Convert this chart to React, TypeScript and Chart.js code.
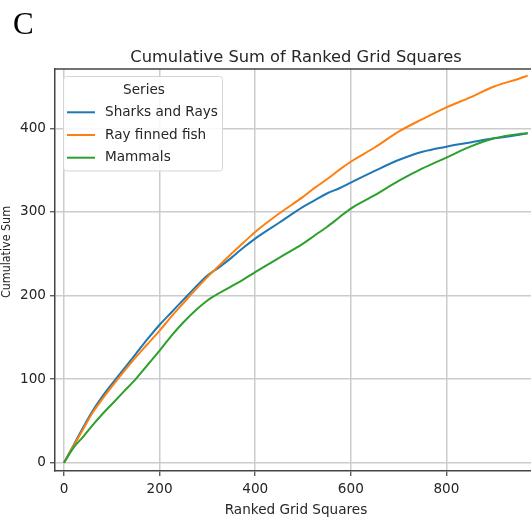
import React, { useEffect, useRef } from "react";
import { Chart, registerables } from "chart.js";

Chart.register(...registerables);

const rankX = [0, 20, 40, 60, 80, 100, 125, 150, 175, 200, 225, 250, 275, 300, 325, 350, 375, 400, 450, 500, 525, 550, 575, 600, 650, 700, 750, 800, 850, 900, 950, 970];
const sharksRays = [0, 21, 42, 62, 79, 94, 112, 130, 148, 165, 180, 195, 210, 224, 234, 245, 257, 268, 287, 306, 314, 322, 328, 335, 349, 362, 372, 378, 383, 388, 392, 394];
const rayFinned = [0, 20, 40, 60, 76, 91, 109, 126, 142, 158, 175, 191, 207, 222, 236, 250, 263, 276, 298, 318, 329, 339, 350, 360, 377, 396, 411, 425, 437, 450, 459, 463];
const mammals = [0, 18, 31, 45, 58, 70, 85, 100, 117, 134, 152, 168, 182, 194, 203, 211, 219, 228, 245, 262, 272, 282, 293, 304, 320, 337, 352, 365, 378, 388, 393, 394];

const seriesLabels = ["Sharks and Rays", "Ray finned fish", "Mammals"];
const seriesColors = ["#1f77b4", "#ff7f0e", "#2ca02c"];
const xTicks = [0, 200, 400, 600, 800];
const yTicks = [0, 100, 200, 300, 400];

const titleText = "Cumulative Sum of Ranked Grid Squares";
const xLabel = "Ranked Grid Squares";
const yLabel = "Cumulative Sum";
const legendTitle = "Series";
const panelLetter = "C";

const FONT = "'DejaVu Sans', sans-serif";
const TEXT = "#262626";
const AXIS = "#444444";
const LBL = 13.6;

const textPlugin = {
  id: "textPlugin",
  afterDraw(chart: any) {
    const ctx = chart.ctx as CanvasRenderingContext2D;
    const a = chart.chartArea;
    ctx.save();
    // top and right spines
    ctx.strokeStyle = AXIS;
    ctx.lineWidth = 1.5;
    ctx.beginPath();
    ctx.moveTo(a.left, a.top);
    ctx.lineTo(a.right, a.top);
    ctx.lineTo(a.right, a.bottom);
    ctx.stroke();

    ctx.fillStyle = TEXT;
    ctx.font = `16.3px ${FONT}`;
    ctx.textAlign = "center";
    ctx.textBaseline = "alphabetic";
    ctx.fillText(titleText, (a.left + a.right) / 2, 62);

    ctx.font = `${LBL}px ${FONT}`;
    ctx.fillText(xLabel, 296, 513.5);

    ctx.save();
    ctx.font = `12.5px ${FONT}`;
    ctx.translate(10, 252);
    ctx.rotate(-Math.PI / 2);
    const w = ctx.measureText(yLabel).width || 1;
    ctx.scale(Math.min(1, 92 / w), 1);
    ctx.fillText(yLabel, 0, 0);
    ctx.restore();

    ctx.fillStyle = "#000";
    ctx.font = `31px 'Liberation Serif', 'Times New Roman', serif`;
    ctx.textAlign = "left";
    ctx.fillText(panelLetter, 13, 34);

    // legend
    const lx = 63.5, ly = 76.5, lw = 159, lh = 94.5;
    ctx.beginPath();
    (ctx as any).roundRect(lx, ly, lw, lh, 3);
    ctx.fillStyle = "rgba(255,255,255,0.85)";
    ctx.fill();
    ctx.strokeStyle = "#d5d5d5";
    ctx.lineWidth = 1;
    ctx.stroke();

    ctx.fillStyle = TEXT;
    ctx.font = `${LBL}px ${FONT}`;
    ctx.textAlign = "center";
    ctx.textBaseline = "middle";
    ctx.fillText(legendTitle, lx + lw / 2 + 1, 90);
    const rows = [112.3, 135, 157.7];
    seriesLabels.forEach((lab, i) => {
      ctx.strokeStyle = seriesColors[i];
      ctx.lineWidth = 2;
      ctx.beginPath();
      ctx.moveTo(67, rows[i]);
      ctx.lineTo(95, rows[i]);
      ctx.stroke();
      ctx.fillStyle = TEXT;
      ctx.textAlign = "left";
      ctx.fillText(lab, 105, rows[i]);
    });
    ctx.restore();
  },
};

export default function App() {
  const ref = useRef<HTMLCanvasElement | null>(null);
  useEffect(() => {
    if (!ref.current) return;
    const series = [sharksRays, rayFinned, mammals];
    const chart = new Chart(ref.current, {
      type: "line",
      data: {
        datasets: series.map((vals, i) => ({
          label: seriesLabels[i],
          data: rankX.map((x, j) => ({ x, y: vals[j] })),
          borderColor: seriesColors[i],
          backgroundColor: seriesColors[i],
          borderWidth: 2,
          pointRadius: 0,
          fill: false,
          cubicInterpolationMode: "monotone" as const,
          order: 3 - i,
        })),
      },
      options: {
        responsive: false,
        animation: false,
        devicePixelRatio: 1,
        layout: { padding: { top: 69, right: 8, bottom: 0, left: 0 } },
        plugins: {
          legend: { display: false },
          title: { display: false },
          tooltip: { enabled: false },
        },
        scales: {
          x: {
            type: "linear",
            min: -18.8,
            max: 989.5,
            afterBuildTicks: (s: any) => {
              s.ticks = xTicks.map((v) => ({ value: v }));
            },
            afterFit: (s: any) => {
              s.height = 47;
            },
            ticks: {
              color: TEXT,
              font: { family: FONT, size: LBL },
              padding: 5,
              maxRotation: 0,
              autoSkip: false,
            },
            grid: {
              color: "#cccccc",
              lineWidth: 1.5,
              tickLength: 5,
              tickColor: AXIS,
              tickWidth: 1.2,
            },
            border: { display: true, color: AXIS, width: 1.5 },
          },
          y: {
            type: "linear",
            min: -9.9,
            max: 470.9,
            afterBuildTicks: (s: any) => {
              s.ticks = yTicks.map((v) => ({ value: v }));
            },
            afterFit: (s: any) => {
              s.width = 55;
            },
            ticks: {
              color: TEXT,
              font: { family: FONT, size: LBL },
              padding: 4,
              autoSkip: false,
            },
            grid: {
              color: "#cccccc",
              lineWidth: 1.5,
              tickLength: 5,
              tickColor: AXIS,
              tickWidth: 1.2,
            },
            border: { display: true, color: AXIS, width: 1.5 },
          },
        },
      },
      plugins: [textPlugin],
    });
    return () => chart.destroy();
  }, []);

  return (
    <div
      style={{
        position: "absolute",
        left: 0,
        top: 0,
        width: 531,
        height: 518,
        overflow: "hidden",
        background: "#fff",
      }}
    >
      <canvas ref={ref} width={545} height={518} style={{ display: "block" }} />
    </div>
  );
}
